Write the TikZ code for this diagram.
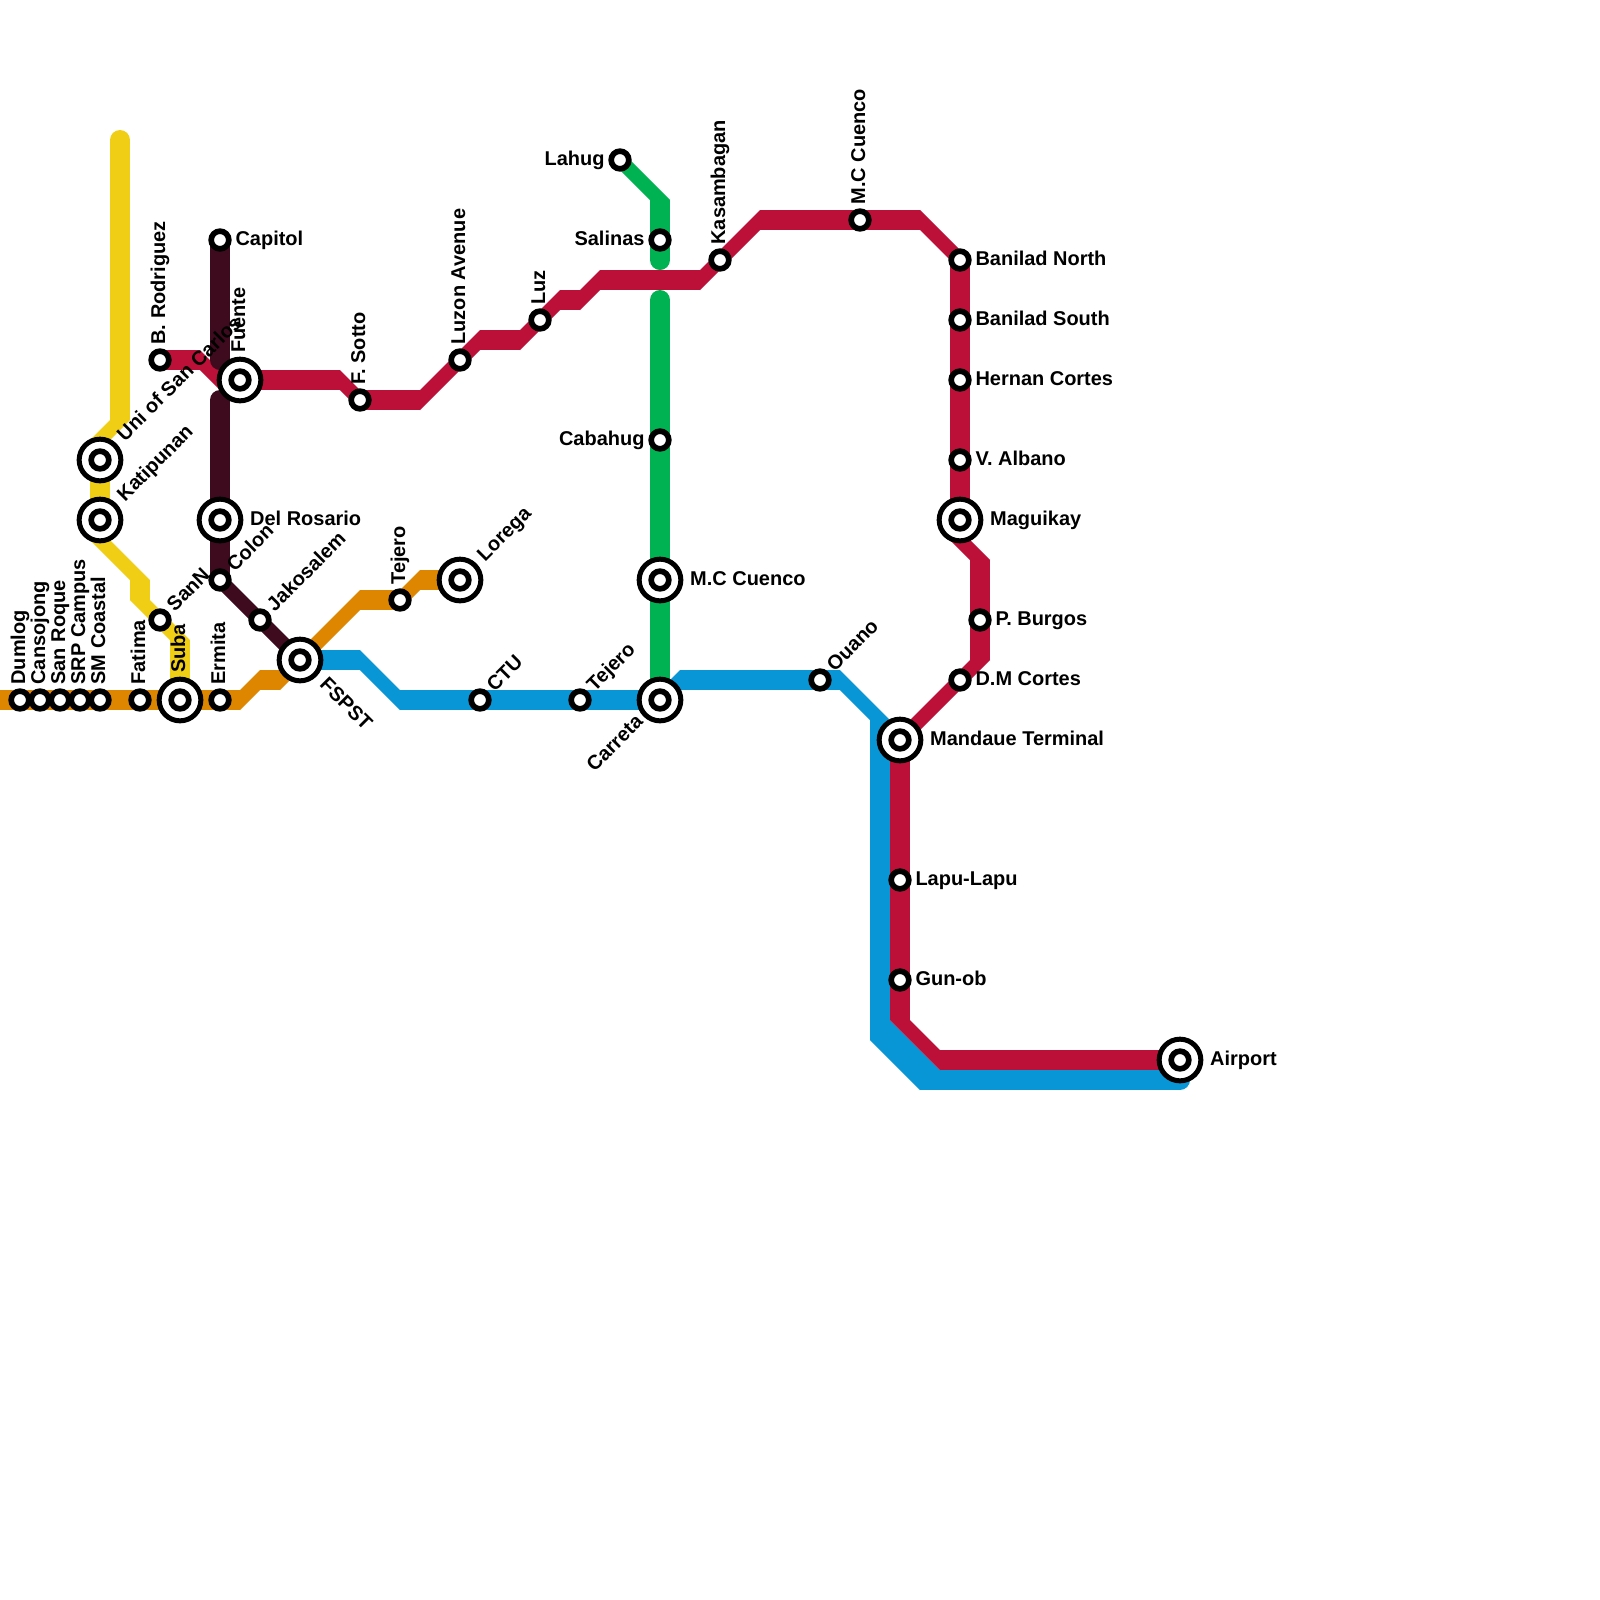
\documentclass[tikz,border=0pt]{standalone}
\usepackage{fontspec}
\setmainfont{Liberation Sans}[BoldFont={Liberation Sans Bold}]
\usetikzlibrary{positioning,backgrounds}
\definecolor{mapyellow}{HTML}{F0CE15}
\definecolor{mapred}{HTML}{BD1038}
\definecolor{mapdark}{HTML}{3D0A1E}
\definecolor{maporange}{HTML}{DF8600}
\definecolor{mapblue}{HTML}{0896D7}
\definecolor{mapgreen}{HTML}{00B251}
\tikzset{
  track/.style={line width=.5cm,line cap=butt},
  slant/.style={line width=.3536cm,line cap=rect},
  stop/.style={circle,draw=black,fill=white,inner sep=0,minimum size=.4415cm,line width=.1415cm},
  hub/.style={circle,draw=black,fill=white,inner sep=0,minimum size=1.042cm,line width=.125cm,
    path picture={\draw[line width=.1415cm,fill=white] (path picture bounding box.center) circle (.2208cm);}},
  tag/.style={font=\bfseries\fontsize{14.2}{14.2}\selectfont,inner sep=0,text height=.72em,text depth=0pt},
  tagE/.style={tag,right=.09cm of #1},
  tagW/.style={tag,left=.09cm of #1},
  tagN/.style={tag,above=.09cm of #1,anchor=west,rotate=90},
  tagNE/.style={tag,above right=.1cm of #1,anchor=west,rotate=45},
  tagSE/.style={tag,below right=.2cm of #1,anchor=west,rotate=-45},
  tagSW/.style={tag,below left=.1cm of #1,anchor=east,rotate=45},
  hubE/.style={tag,right=.165cm of #1},
  hubNE/.style={tag,above right=.17cm of #1,anchor=west,rotate=45}
}
\begin{document}
\begin{tikzpicture}[x=.5cm,y=-.5cm]
\useasboundingbox (0,0) rectangle (80,80);

% West end, along the coast
\node[stop] (dumlog) at (1,35) {};
\node[stop] (cansojong) at (2,35) {};
\node[stop] (sanroque) at (3,35) {};
\node[stop] (srp) at (4,35) {};
\node[stop] (smcoastal) at (5,35) {};
\node[stop] (fatima) at (7,35) {};
\node[hub] (suba) at (9,35) {};
\node[stop] (ermita) at (11,35) {};
\node[hub] (fspst) at (15,33) {};
\node[stop] (tejeroA) at (20,30) {};
\node[hub] (lorega) at (23,29) {};

% Yellow branch
\node[hub] (usc) at (5,23) {};
\node[hub] (katipunan) at (5,26) {};
\node[stop] (sann) at (8,31) {};

% Dark branch
\node[stop] (capitol) at (11,12) {};
\node[hub] (delrosario) at (11,26) {};
\node[stop] (colon) at (11,29) {};
\node[stop] (jakosalem) at (13,31) {};

% Red line
\node[stop] (rodriguez) at (8,18) {};
\node[hub] (fuente) at (12,19) {};
\node[stop] (sotto) at (18,20) {};
\node[stop] (luzon) at (23,18) {};
\node[stop] (luz) at (27,16) {};
\node[stop] (kasambagan) at (36,13) {};
\node[stop] (cuencoN) at (43,11) {};
\node[stop] (banilarN) at (48,13) {};
\node[stop] (banilarS) at (48,16) {};
\node[stop] (hernan) at (48,19) {};
\node[stop] (albano) at (48,23) {};
\node[hub] (maguikay) at (48,26) {};
\node[stop] (burgos) at (49,31) {};
\node[stop] (cortes) at (48,34) {};
\node[hub] (mandaue) at (45,37) {};
\node[stop] (lapu) at (45,44) {};
\node[stop] (gunob) at (45,49) {};
\node[hub] (airport) at (59,53) {};

% Green line
\node[stop] (lahug) at (31,8) {};
\node[stop] (salinas) at (33,12) {};
\node[stop] (cabahug) at (33,22) {};
\node[hub] (cuencoS) at (33,29) {};
\node[hub] (carreta) at (33,35) {};

% Blue line
\node[stop] (ctu) at (24,35) {};
\node[stop] (tejeroB) at (29,35) {};
\node[stop] (ouano) at (41,34) {};

\begin{pgfonlayer}{background}
% blue
\draw[mapblue,track] (fspst.center) -- (18,33) (20,35) -- (carreta.center) (34,34) -- (ouano.center) -- (42,34)
  (44,36) -- (44,52) (46,54) -- (58,54);
\draw[mapblue,track,line cap=round] (58,54) -- (59,54);
\draw[mapblue,slant] (18,33) -- (20,35) (carreta.center) -- (34,34) (42,34) -- (44,36) (44,52) -- (46,54) (44.5,51.5) -- (46.5,53.5);
% red
\draw[mapred,track] (rodriguez.center) -- (10,18) (11,19) -- (fuente.center) -- (17,19) (sotto.center) -- (21,20)
  (24,17) -- (26,17) (28,15) -- (29,15) (30,14) -- (35,14) (38,11) -- (cuencoN.center) -- (46,11)
  (banilarN.center) -- (banilarS.center) -- (hernan.center) -- (albano.center) -- (maguikay.center) -- (48,27)
  (49,28) -- (burgos.center) -- (49,33) (mandaue.center) -- (lapu.center) -- (gunob.center) -- (45,51) (47,53) -- (airport.center);
\draw[mapred,slant] (10,18) -- (11,19) (17,19) -- (sotto.center) (21,20) -- (luzon.center) -- (24,17) (26,17) -- (luz.center) -- (28,15)
  (29,15) -- (30,14) (35,14) -- (kasambagan.center) -- (38,11) (46,11) -- (banilarN.center) (48,27) -- (49,28)
  (49,33) -- (cortes.center) -- (mandaue.center) (45,51) -- (47,53);
% dark
\draw[mapdark,track,line cap=round] (capitol.center) -- (11,18);
\draw[mapdark,track,line cap=round] (11,20) -- (delrosario.center);
\draw[mapdark,track] (delrosario.center) -- (colon.center);
\draw[mapdark,slant] (colon.center) -- (jakosalem.center) -- (fspst.center);
% yellow
\draw[mapyellow,track,line cap=round] (6,7) -- (6,8);
\draw[mapyellow,track] (6,8) -- (6,21) (5,22) -- (usc.center) -- (katipunan.center) -- (5,27) (7,29) -- (7,30) (9,32) -- (suba.center);
\draw[mapyellow,slant] (6,21) -- (5,22) (5,27) -- (7,29) (7,30) -- (sann.center) -- (9,32);
% orange
\draw[maporange,track] (0,35) -- (dumlog.center) -- (cansojong.center) -- (sanroque.center) -- (srp.center) -- (smcoastal.center)
  -- (fatima.center) -- (suba.center) -- (ermita.center) -- (12,35) (13,34) -- (14,34) (18,30) -- (tejeroA.center) (21,29) -- (lorega.center);
\draw[maporange,slant] (12,35) -- (13,34) (14,34) -- (fspst.center) -- (18,30) (tejeroA.center) -- (21,29);
% green
\draw[mapgreen,slant] (lahug.center) -- (33,10);
\draw[mapgreen,track] (33,10) -- (salinas.center);
\draw[mapgreen,track,line cap=round] (salinas.center) -- (33,13);
\draw[mapgreen,track,line cap=round] (33,15) -- (cabahug.center);
\draw[mapgreen,track] (cabahug.center) -- (cuencoS.center) -- (carreta.center);
\end{pgfonlayer}

% Station names
\node[tagN=dumlog] (dumlogTag) {Dumlog};
\node[tagN=cansojong] (cansojongTag) {Cansojong};
\node[tagN=sanroque] (sanroqueTag) {San Roque};
\node[tagN=srp] (srpTag) {SRP Campus};
\node[tagN=smcoastal] (smcoastalTag) {SM Coastal};
\node[tagN=fatima] (fatimaTag) {Fatima};
\node[tagN=suba] (subaTag) {Suba};
\node[tagN=ermita] (ermitaTag) {Ermita};
\node[tagSE=fspst] (fspstTag) {FSPST};
\node[tagN=tejeroA] (tejeroATag) {Tejero};
\node[hubNE=lorega] (loregaTag) {Lorega};
\node[hubNE=usc] (uscTag) {Uni of San Carlos};
\node[hubNE=katipunan] (katipunanTag) {Katipunan};
\node[tagNE=sann] (sannTag) {SanN};
\node[tagE=capitol] (capitolTag) {Capitol};
\node[hubE=delrosario] (delrosarioTag) {Del Rosario};
\node[tagNE=colon] (colonTag) {Colon};
\node[tagNE=jakosalem] (jakosalemTag) {Jakosalem};
\node[tagN=rodriguez] (rodriguezTag) {B. Rodriguez};
\node[tagN=fuente] (fuenteTag) {Fuente};
\node[tagN=sotto] (sottoTag) {F. Sotto};
\node[tagN=luzon] (luzonTag) {Luzon Avenue};
\node[tagN=luz] (luzTag) {Luz};
\node[tagN=kasambagan] (kasambaganTag) {Kasambagan};
\node[tagN=cuencoN] (cuencoNTag) {M.C Cuenco};
\node[tagE=banilarN] (banilarNTag) {Banilad North};
\node[tagE=banilarS] (banilarSTag) {Banilad South};
\node[tagE=hernan] (hernanTag) {Hernan Cortes};
\node[tagE=albano] (albanoTag) {V. Albano};
\node[hubE=maguikay] (maguikayTag) {Maguikay};
\node[tagE=burgos] (burgosTag) {P. Burgos};
\node[tagE=cortes] (cortesTag) {D.M Cortes};
\node[hubE=mandaue] (mandaueTag) {Mandaue Terminal};
\node[tagE=lapu] (lapuTag) {Lapu-Lapu};
\node[tagE=gunob] (gunobTag) {Gun-ob};
\node[hubE=airport] (airportTag) {Airport};
\node[tagW=lahug] (lahugTag) {Lahug};
\node[tagW=salinas] (salinasTag) {Salinas};
\node[tagW=cabahug] (cabahugTag) {Cabahug};
\node[hubE=cuencoS] (cuencoSTag) {M.C Cuenco};
\node[tagSW=carreta] (carretaTag) {Carreta};
\node[tagNE=ctu] (ctuTag) {CTU};
\node[tagNE=tejeroB] (tejeroBTag) {Tejero};
\node[tagNE=ouano] (ouanoTag) {Ouano};
\end{tikzpicture}
\end{document}
